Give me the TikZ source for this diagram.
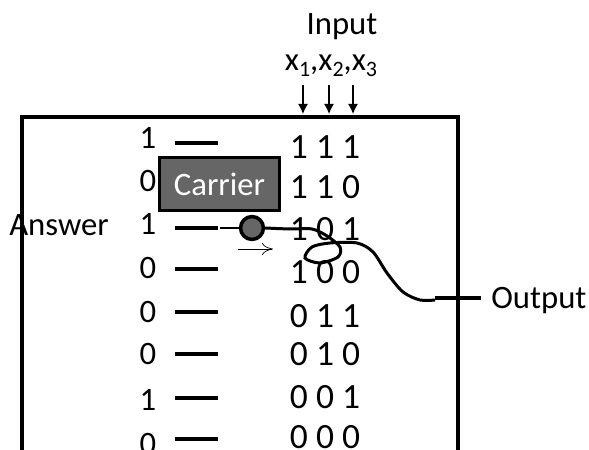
\documentclass[tikz,border=0pt]{standalone}
\usepackage{fontspec}
\setmainfont{Carlito}
\usepackage{tikz}
\usetikzlibrary{arrows.meta, positioning}
\definecolor{carriergray}{RGB}{102,102,102}
\newcommand{\xsub}[1]{x\raisebox{-3.5pt}{\fontsize{12.5}{13}\selectfont #1}}
\tikzset{
    label/.style={inner sep=0pt, font=\fontsize{18.6}{20}\selectfont},
    bitlabel/.style={inner sep=0pt, font=\fontsize{20.2}{22}\selectfont},
    wire/.style={line width=2pt},
}

\begin{document}
\begin{tikzpicture}[x=.2mm, y=-.2mm]
            \useasboundingbox (0,0) rectangle (589,450);
            \clip (0,0) rectangle (589,450);
            % outer box, open at the bottom
            \draw [wire] (22,470) -- (22,117) -- (458,117) -- (458,470);
            % input side
            \node [label] (input) at (342,27) {Input};
            \node [label] (xvars) at (331,66) {\xsub{1},\xsub{2},\xsub{3}};
            \foreach \name/\x in {a/303, b/329, c/353} {
                \coordinate (in\name) at (\x,85);
                \coordinate (to\name) at (\x,114);
                \draw [line width=.8pt, -{Latex[length=2mm,width=2mm]}] (in\name) -- (to\name);
            }
            % rows of the table
            \foreach \i/\ans/\ansy/\dashy/\bits/\bity in {
                1/1/138/143/1 1 1/147, 2/0/181/186/1 1 0/187, 3/1/224/228/1 0 1/229,
                4/0/268/269/1 0 0/272, 5/0/312/312/0 1 1/316, 6/0/354/354/0 1 0/354,
                7/1/400/398/0 0 1/397, 8/0/444/439/0 0 0/437} {
                \node [label] (ans\i) at (148,\ansy) {\ans};
                \coordinate (dl\i) at (175,\dashy);
                \coordinate (dr\i) at (218,\dashy);
                \draw [wire] (dl\i) -- (dr\i);
                \node [bitlabel] (bits\i) at (325,\bity) {\bits};
            }
            \node [label] (answer) at (59,225) {Answer};
            % carrier and its ball
            \node [draw, line width=1.6pt, fill=carriergray, text=white, label, minimum width=68.6pt,
                   minimum height=30.6pt] (carrier) at (219.5,184) {Carrier};
            \coordinate (wirestart) at (220,228);
            \node [circle, draw, wire, fill=carriergray, minimum size=13pt, inner sep=0pt] (ball) at (252,228) {};
            \draw [line width=1.4pt] (wirestart) -- (ball);
            \coordinate (movefrom) at (238,249);
            \coordinate (moveto) at (273,249);
            \draw [-{To[length=2.2mm,width=2.4mm]}, line width=.4pt] (movefrom) -- (moveto);
            % output
            \coordinate (wireend) at (435,300);
            \draw [line width=1.7pt] plot [smooth, tension=.5] coordinates {
                (ball.east) (290,229) (312,229) (327,236) (340,247) (338,257) (320,263)
                (305,258) (312,247) (330,243) (357,243) (373,252) (387,273) (403,292)
                (420,300) (wireend)};
            \node [label, anchor=west] (output) at (491,301) {Output};
            \coordinate (outstub) at (481,298);
            \draw [wire] (435,298) -- (outstub);
        \end{tikzpicture}
\end{document}
